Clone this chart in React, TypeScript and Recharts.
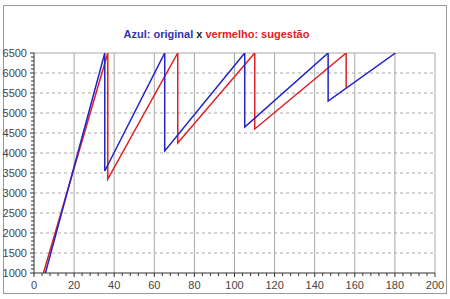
import { LineChart, Line, XAxis, YAxis, ReferenceLine } from "recharts";

// values
const blueX = [5.7, 35.3, 35.3, 65.2, 65.2, 105.1, 105.1, 146.7, 146.7, 180.3];
const blueY = [1000, 6500, 3550, 6500, 4050, 6500, 4650, 6500, 5300, 6500];
const redX = [4.7, 36.8, 36.8, 71.7, 71.7, 110.1, 110.1, 155.7, 155.7];
const redY = [1000, 6500, 3350, 6500, 4250, 6500, 4600, 6500, 5630];

const xMajor = [0, 20, 40, 60, 80, 100, 120, 140, 160, 180, 200];
const xMinor = Array.from({ length: 51 }, (_, i) => i * 4);
const yMajor = [1000, 1500, 2000, 2500, 3000, 3500, 4000, 4500, 5000, 5500, 6000, 6500];
const yMinor = Array.from({ length: 56 }, (_, i) => 1000 + i * 100);

const BLUE = "#2222c8";
const RED = "#dd2222";
const GRID = "#a8a8a8";
const FONT = "'Liberation Sans', Arial, sans-serif";

const blueData = blueX.map((x, i) => ({ x, y: blueY[i] }));
const redData = redX.map((x, i) => ({ x, y: redY[i] }));

function XTick(props: any) {
  const { x, y, payload } = props;
  const major = payload.value % 20 === 0;
  return (
    <g>
      <line x1={x} x2={x} y1={y} y2={y + (major ? 4 : 3)} stroke="#333" />
      {major && (
        <text x={x} y={y + 16} textAnchor="middle" fontSize={11} fill="#444" fontFamily={FONT}>
          {payload.value}
        </text>
      )}
    </g>
  );
}

function YTick(props: any) {
  const { x, y, payload } = props;
  const major = payload.value % 500 === 0;
  return (
    <g>
      <line x1={x} x2={x - (major ? 4 : 3)} y1={y} y2={y} stroke="#333" />
      {major && (
        <text x={x - 7} y={y + 4} textAnchor="end" fontSize={11} fill="#444" fontFamily={FONT}>
          {payload.value}
        </text>
      )}
    </g>
  );
}

export default function App() {
  return (
    <div style={{ position: "absolute", left: 0, top: 0, width: 450, height: 299, background: "#fff" }}>
      <div
        style={{
          position: "absolute",
          left: 3,
          top: 5,
          width: 442,
          height: 287,
          border: "1px solid #999",
        }}
      />
      <div
        style={{
          position: "absolute",
          left: 0,
          width: 433,
          top: 28,
          textAlign: "center",
          fontFamily: FONT,
          fontWeight: "bold",
          fontSize: 11,
        }}
      >
        <span style={{ color: "#3333aa" }}>Azul: original</span>
        <span style={{ color: "#222" }}> x </span>
        <span style={{ color: RED }}>vermelho: sugestão</span>
      </div>
      <div style={{ position: "absolute", left: 0, top: 0 }}>
        <LineChart width={450} height={299} margin={{ top: 53, right: 15, bottom: 6, left: 0 }}>
          <XAxis
            type="number"
            dataKey="x"
            domain={[0, 200]}
            ticks={xMinor}
            interval={0}
            tickSize={0}
            tickMargin={0}
            tickLine={false}
            tick={<XTick />}
            height={20}
            axisLine={{ stroke: "#333" }}
            allowDataOverflow
          />
          <YAxis
            type="number"
            dataKey="y"
            domain={[1000, 6500]}
            ticks={yMinor}
            interval={0}
            tickSize={0}
            tickMargin={0}
            tickLine={false}
            tick={<YTick />}
            width={34}
            axisLine={{ stroke: "#333" }}
            allowDataOverflow
          />
          {yMajor.slice(1, -1).map((v) => (
            <ReferenceLine key={"h" + v} y={v} stroke={GRID} strokeDasharray="3 3" />
          ))}
          <ReferenceLine y={6500} stroke={GRID} />
          {xMajor.slice(1).map((v) => (
            <ReferenceLine key={"v" + v} x={v} stroke={GRID} />
          ))}
          <Line
            data={redData}
            dataKey="y"
            type="linear"
            stroke={RED}
            strokeWidth={1.5}
            dot={false}
            isAnimationActive={false}
          />
          <Line
            data={blueData}
            dataKey="y"
            type="linear"
            stroke={BLUE}
            strokeWidth={1.5}
            dot={false}
            isAnimationActive={false}
          />
        </LineChart>
      </div>
    </div>
  );
}
